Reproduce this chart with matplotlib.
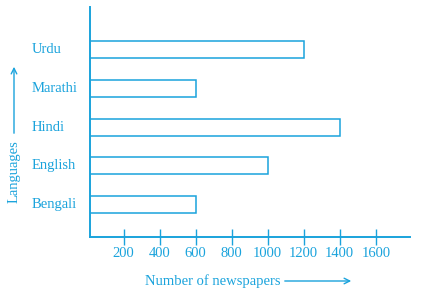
import matplotlib.pyplot as plt
import matplotlib.transforms as mtrans

# data
languages = ['Bengali', 'English', 'Hindi', 'Marathi', 'Urdu']
newspapers = [600, 1000, 1400, 600, 1200]
xticks = [200, 400, 600, 800, 1000, 1200, 1400, 1600]

col = '#1aa3dc'
W, H = 422, 298

plt.rcParams['font.family'] = ['Liberation Serif', 'DejaVu Serif']

fig = plt.figure(figsize=(W / 100, H / 100), dpi=100)
ax = fig.add_axes([90 / W, (H - 237) / H, (410 - 90) / W, (237 - 7) / H])

ypos = list(range(len(languages)))
ax.barh(ypos, newspapers, height=0.44, facecolor='white', edgecolor=col, linewidth=1.1)

# zero sits just left of the drawn axis line, as in the original
ax.set_xlim(13, 1790)
ax.set_ylim(-0.84, 5.1)

for s in ['top', 'right']:
    ax.spines[s].set_visible(False)
for s in ['left', 'bottom']:
    ax.spines[s].set_color(col)
    ax.spines[s].set_linewidth(1.4)

ax.set_xticks(xticks)
ax.set_xticklabels([str(t) for t in xticks], color=col, fontsize=10.5)
ax.tick_params(axis='x', direction='inout', length=11, width=1, color=col, pad=2)
ax.set_yticks([])

# language labels, left aligned (x in figure coords, y in data)
blend = mtrans.blended_transform_factory(fig.transFigure, ax.transData)
for y, name in zip(ypos, languages):
    ax.text(32 / W, y, name, transform=blend, fontsize=10.5,
            color=col, ha='left', va='center', clip_on=False)

# axis titles with arrows
fig.text(14 / W, 1 - 172 / H, 'Languages', rotation=90, color=col, fontsize=10.5,
         ha='center', va='center')
ax.annotate('', xy=(14 / W, 1 - 64 / H), xytext=(14 / W, 1 - 136 / H),
            xycoords='figure fraction',
            arrowprops=dict(arrowstyle='->', color=col, lw=1))
fig.text(145 / W, 1 - 281 / H, 'Number of newspapers', color=col, fontsize=10.5,
         ha='left', va='center')
ax.annotate('', xy=(354 / W, 1 - 281 / H), xytext=(282 / W, 1 - 281 / H),
            xycoords='figure fraction',
            arrowprops=dict(arrowstyle='->', color=col, lw=1))

fig.savefig('out.png', dpi=100)
